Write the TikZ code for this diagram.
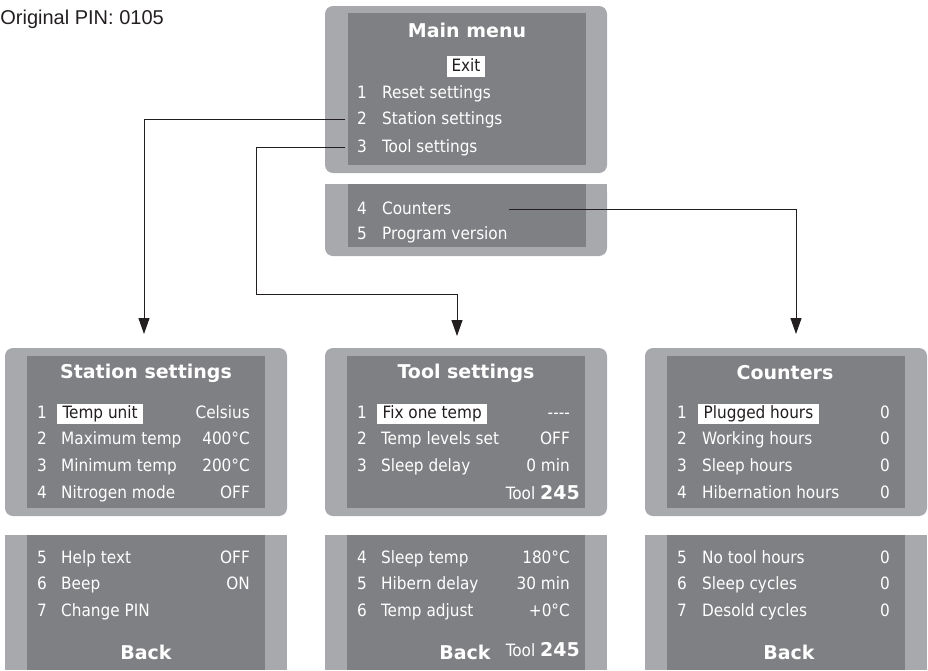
\documentclass[tikz,border=0pt]{standalone}
\usepackage{fontspec}
\setmainfont{DejaVu Sans Condensed}
\newfontfamily\headfont{DejaVu Sans}
\newfontfamily\pinfont{Liberation Sans}
\usetikzlibrary{arrows.meta}

\definecolor{bezel}{RGB}{168,169,173}
\definecolor{screen}{RGB}{127,128,131}
\definecolor{ink}{RGB}{35,31,32}

\tikzset{
    item/.style={text=white, inner sep=0pt, text height=12.5pt, text depth=3.5pt,
        yshift=-1.5pt, font=\fontsize{17}{17}\selectfont},
    num/.style={item, anchor=west},
    lbl/.style={item, anchor=west},
    val/.style={item, anchor=east},
    lo/.style={},
    hi/.style={fill=white, text=ink, inner xsep=5.5pt, inner ysep=2pt, xshift=-4pt},
    head/.style={text=white, inner sep=0pt,
        font=\headfont\bfseries\fontsize{19}{19}\selectfont},
    link/.style={draw=ink, line width=1pt, -{Triangle[length=16pt,width=11pt]}}
}
\newcommand{\toolno}{Tool {\headfont\bfseries\fontsize{19}{19}\selectfont 245}}

\begin{document}
\begin{tikzpicture}[x=1pt, y=-1pt]
    \useasboundingbox (0,0) rectangle (928,670);
    % main menu screen
    \fill[bezel, rounded corners=8] (325,6) rectangle (607,173);
    \fill[screen] (348,13) rectangle (586,165);
    \fill[bezel, rounded corners=8] (325,184) rectangle (607,256);
    \fill[bezel] (325,184) rectangle (607,200);
    \fill[screen] (348,184) rectangle (586,247);
    % sub menu screens
    \foreach \L in {5,325,645}{
        \fill[bezel, rounded corners=8] (\L,348) rectangle ++(282,168);
        \fill[screen] (\L+22,356) rectangle ++(238,152);
        \fill[bezel] (\L,535) rectangle ++(282,135);
        \fill[screen] (\L+22,535) rectangle ++(238,135);
    }

    \node[anchor=base east, inner sep=0pt, text=ink,
        font=\pinfont\fontsize{20}{20}\selectfont] (pin) at (164,24) {Original PIN: 0105};

    \node[head] (mTitle) at (467,30) {Main menu};
    \node[item, fill=white, text=ink, inner xsep=5pt, inner ysep=2.5pt] (mExit) at (466,65) {Exit};
    \foreach \n/\t/\y in {1/Reset settings/92, 2/Station settings/118, 3/Tool settings/146,
                          4/Counters/208, 5/Program version/233}{
        \node[num] (mn\n) at (357,\y) {\n};
        \node[lbl] (m\n) at (382,\y) {\t};
    }

    \node[head] (sTitle) at (146,373) {Station settings};
    \foreach \n/\t/\v/\y/\s in {1/Temp unit/Celsius/412/hi, 2/Maximum temp/400°C/438/lo,
            3/Minimum temp/200°C/465/lo, 4/Nitrogen mode/OFF/492/lo,
            5/Help text/OFF/557/lo, 6/Beep/ON/583/lo, 7/Change PIN//610/lo}{
        \node[num] (sn\n) at (37,\y) {\n};
        \node[lbl, \s] (s\n) at (61,\y) {\t};
        \node[val] (sv\n) at (250,\y) {\v};
    }
    \node[head] (sBack) at (146,652) {Back};

    \node[head] (tTitle) at (466,373) {Tool settings};
    \foreach \n/\t/\v/\y/\s in {1/Fix one temp/{-}{-}{-}{-}/412/hi, 2/Temp levels set/OFF/438/lo,
            3/Sleep delay/0 min/465/lo, 4/Sleep temp/180°C/557/lo,
            5/Hibern delay/30 min/583/lo, 6/Temp adjust/+0°C/610/lo}{
        \node[num] (tn\n) at (357,\y) {\n};
        \node[lbl, \s] (t\n) at (381,\y) {\t};
        \node[val] (tv\n) at (570,\y) {\v};
    }
    \node[val] (tTool) at (580,493) {\toolno};
    \node[head] (tBack) at (465,652) {Back};
    \node[val] (tTool2) at (580,650) {\toolno};

    \node[head] (cTitle) at (785,373) {Counters};
    \foreach \n/\t/\y/\s in {1/Plugged hours/412/hi, 2/Working hours/438/lo,
            3/Sleep hours/465/lo, 4/Hibernation hours/492/lo,
            5/No tool hours/557/lo, 6/Sleep cycles/583/lo, 7/Desold cycles/610/lo}{
        \node[num] (cn\n) at (677,\y) {\n};
        \node[lbl, \s] (c\n) at (702,\y) {\t};
        \node[val] (cv\n) at (890,\y) {0};
    }
    \node[head] (cBack) at (789,652) {Back};

    % connectors
    \coordinate (sIn) at (144,334);
    \coordinate (tIn) at (457,336);
    \coordinate (cIn) at (796,334);
    \draw[link] ([xshift=-12pt]mn2.west) -| (sIn);
    \draw[link] ([xshift=-12pt]mn3.west) -| (256,294) -| (tIn);
    \draw[link] ([xshift=58pt]m4.east) -| (cIn);
\end{tikzpicture}
\end{document}
